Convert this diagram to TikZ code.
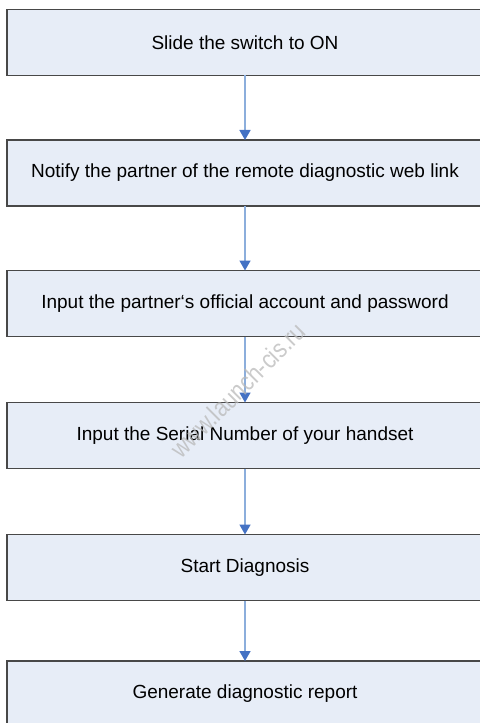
\documentclass[tikz,border=0pt]{standalone}
\usepackage{fontspec}
\setmainfont{Liberation Sans}
\usepackage{tikz}
\usetikzlibrary{arrows.meta}
\definecolor{StepFill}{RGB}{231,237,247}
\definecolor{StepEdge}{RGB}{72,72,72}
\definecolor{FlowLine}{RGB}{140,174,220}
\definecolor{FlowHead}{RGB}{68,114,196}
\definecolor{MarkGray}{RGB}{185,185,185}

\begin{document}
\begin{tikzpicture}[x=1bp,y=-1bp,
  stepbox/.style={draw=StepEdge,line width=1.3bp,fill=StepFill,
    minimum width=476bp,minimum height=66bp,inner sep=0pt,outer sep=0pt,
    font=\fontsize{19bp}{22bp}\selectfont},
  flowline/.style={FlowLine,line width=1.6bp,
    -{Triangle[width=11bp,length=10bp,color=FlowHead,fill=FlowHead]}}]
  \clip (0,0) rectangle (480,723);
  \useasboundingbox (0,0) rectangle (480,723);
  \node[stepbox] (s1) at (245,42.5) {Slide the switch to ON};
  \node[stepbox] (s2) at (245,173) {Notify the partner of the remote diagnostic web link};
  \node[stepbox] (s3) at (245,303.5) {Input the partner‘s official account and password};
  \node[stepbox] (s4) at (245,435.5) {Input the Serial Number of your handset};
  \node[stepbox] (s5) at (245,567.5) {Start Diagnosis};
  \node[stepbox] (s6) at (245,694) {Generate diagnostic report};
  \draw[flowline] (s1) -- (s2);
  \draw[flowline] (s2) -- (s3);
  \draw[flowline] (s3) -- (s4);
  \draw[flowline] (s4) -- (s5);
  \draw[flowline] (s5) -- (s6);
  % watermark
  \node[MarkGray,opacity=.75,transform shape,rotate=45,xscale=.85,
    font=\fontsize{26bp}{26bp}\selectfont] (mark) at (238,390) {www.launch-cis.ru};
\end{tikzpicture}
\end{document}
